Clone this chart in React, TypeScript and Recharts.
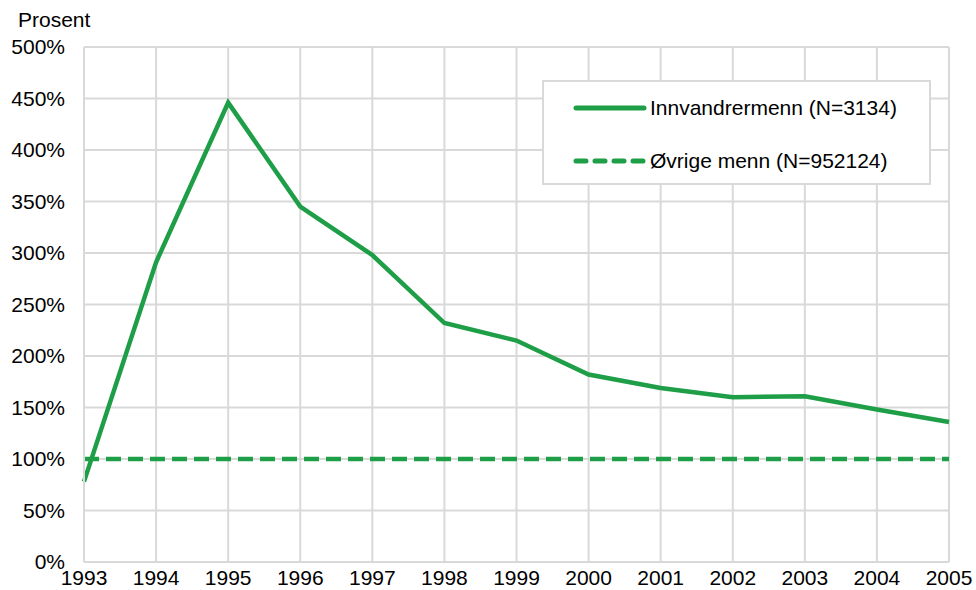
import { LineChart, Line, XAxis, YAxis, CartesianGrid } from 'recharts'

const FONT = "'Liberation Sans', Arial, sans-serif"
const GREEN = '#1f9e48'
const GRID = '#d9d9d9'
const FS = 21

const years = [1993, 1994, 1995, 1996, 1997, 1998, 1999, 2000, 2001, 2002, 2003, 2004, 2005]
const innvandrer = [78, 291, 446, 345, 298, 232, 215, 182, 169, 160, 161, 148, 136]
const ovrige = [100, 100, 100, 100, 100, 100, 100, 100, 100, 100, 100, 100, 100]
const yTicks = [0, 50, 100, 150, 200, 250, 300, 350, 400, 450, 500]
const seriesNames = ['Innvandrermenn (N=3134)', 'Øvrige menn (N=952124)']

const data = years.map((y, i) => ({ year: y, inn: innvandrer[i], ovr: ovrige[i] }))

const tick = { fill: '#000', fontSize: FS, fontFamily: FONT }

function LegendBox() {
  const dashes = [undefined, '10 9']
  return (
    <div style={{ position: 'absolute', left: 542, top: 80, width: 389, height: 105, background: '#fff', border: `2px solid ${GRID}`, boxSizing: 'border-box', paddingTop: 12 }}>
      {seriesNames.map((name, i) => (
        <div key={i} style={{ display: 'flex', alignItems: 'center', height: 27, marginBottom: i === 0 ? 26 : 0 }}>
          <svg width={106} height={10} style={{ flexShrink: 0 }}>
            <line x1={32} y1={5} x2={100} y2={5} stroke={GREEN} strokeWidth={5} strokeDasharray={dashes[i]} strokeLinecap="round" />
          </svg>
          <span style={{ fontFamily: FONT, fontSize: FS, color: '#000', whiteSpace: 'nowrap' }}>{name}</span>
        </div>
      ))}
    </div>
  )
}

export default function App() {
  return (
    <div style={{ position: 'absolute', left: 0, top: 0, width: 976, height: 590, background: '#fff' }}>
      <div style={{ position: 'absolute', left: 18, top: 8, fontFamily: FONT, fontSize: FS, color: '#000' }}>Prosent</div>
      <LineChart width={976} height={590} data={data} margin={{ top: 47, right: 27, bottom: 0, left: 0 }}>
        <CartesianGrid stroke={GRID} strokeWidth={2} horizontalValues={yTicks} verticalValues={years} />
        <XAxis
          dataKey="year"
          type="number"
          domain={[1993, 2005]}
          ticks={years}
          interval={0}
          height={28}
          tick={tick}
          tickLine={false}
          axisLine={{ stroke: GRID, strokeWidth: 2 }}
          tickSize={0}
          tickMargin={8}
        />
        <YAxis
          domain={[0, 500]}
          ticks={yTicks}
          interval={0}
          width={84}
          tick={tick}
          tickFormatter={(v) => `${v}%`}
          tickLine={false}
          axisLine={{ stroke: GRID, strokeWidth: 2 }}
          tickSize={0}
          tickMargin={19}
        />
        <Line type="linear" dataKey="ovr" name={seriesNames[1]} stroke={GREEN} strokeWidth={4.5} strokeDasharray="15 7" dot={false} isAnimationActive={false} />
        <Line type="linear" dataKey="inn" name={seriesNames[0]} stroke={GREEN} strokeWidth={4.5} dot={false} isAnimationActive={false} />
      </LineChart>
      <LegendBox />
    </div>
  )
}
